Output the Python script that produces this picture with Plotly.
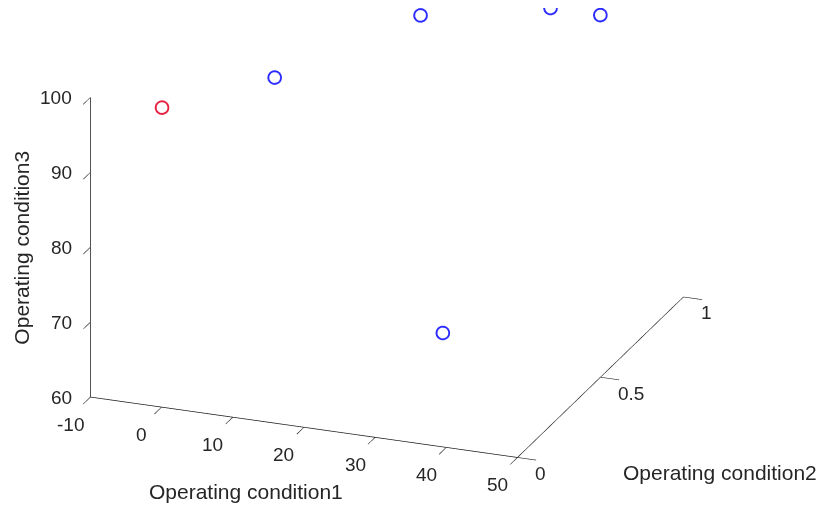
import plotly.graph_objects as go

# operating conditions (altitude, mach, throttle) - six regimes
cond1 = [0, 10, 20, 25, 35, 42]
cond2 = [0, 0.25, 0.7, 0.62, 0.84, 0.84]
cond3 = [100, 100, 100, 60, 100, 100]
is_red = [True, False, False, False, False, False]

x_ticks = [-10, 0, 10, 20, 30, 40, 50]
y_ticks = [0, 0.5, 1]
z_ticks = [60, 70, 80, 90, 100]
x_title = "Operating condition1"
y_title = "Operating condition2"
z_title = "Operating condition3"

red_pts = [i for i, r in enumerate(is_red) if r]
blue_pts = [i for i, r in enumerate(is_red) if not r]

font_col = "#262626"
fam = "Liberation Sans, Arial, sans-serif"

fig = go.Figure()
fig.add_trace(go.Scatter3d(
    x=[cond1[i] for i in blue_pts], y=[cond2[i] for i in blue_pts], z=[cond3[i] for i in blue_pts],
    mode="markers",
    marker=dict(symbol="circle-open", size=8, color="#2b2bff", line=dict(width=1.5, color="#2b2bff")),
))
fig.add_trace(go.Scatter3d(
    x=[cond1[i] for i in red_pts], y=[cond2[i] for i in red_pts], z=[cond3[i] for i in red_pts],
    mode="markers",
    marker=dict(symbol="circle-open", size=8, color="#e8203f", line=dict(width=1.5, color="#e8203f")),
))


def ax(rng, ticks):
    return dict(
        title=dict(text=""),
        range=rng, tickvals=ticks, showticklabels=False,
        showgrid=False, zeroline=False, showbackground=False,
        showline=True, linecolor="#1a1a1a", linewidth=1.5,
        ticks="outside", ticklen=20, tickcolor="#1a1a1a", tickwidth=1.5,
        showspikes=False, autorange=False,
    )


# tick labels and titles as flat text anchored in the scene (MATLAB keeps them horizontal)
tick_font = dict(family=fam, size=19, color=font_col)
title_font = dict(family=fam, size=21, color=font_col)
ann = []
for t in x_ticks:
    ann.append(dict(x=t, y=0, z=60, text=str(t), showarrow=False, font=tick_font,
                    xanchor="center", yanchor="middle", xshift=-20, yshift=-27))
for t in y_ticks:
    ann.append(dict(x=50, y=t, z=60, text=str(t), showarrow=False, font=tick_font,
                    xanchor="left", yanchor="middle", xshift=16, yshift=-16))
for t in z_ticks:
    ann.append(dict(x=-10, y=0, z=t, text=str(t), showarrow=False, font=tick_font,
                    xanchor="right", yanchor="middle", xshift=-16, yshift=0))
ann.append(dict(x=20, y=0, z=60, text=x_title, showarrow=False, font=title_font,
                xanchor="center", yanchor="middle", xshift=-58, yshift=-64))
ann.append(dict(x=50, y=0.5, z=60, text=y_title, showarrow=False, font=title_font,
                xanchor="left", yanchor="middle", xshift=21, yshift=-95))
ann.append(dict(x=-10, y=0, z=80, text=z_title, showarrow=False, font=title_font, textangle=-90,
                xanchor="center", yanchor="middle", xshift=-69, yshift=0))

view_dir = (0.664, -1.736, 0.740)
look_at = (0.161, -0.040, -0.237)

fig.update_layout(
    width=827, height=508,
    margin=dict(l=0, r=0, t=0, b=0),
    paper_bgcolor="white",
    showlegend=False,
    font=dict(family=fam, color=font_col),
    scene=dict(
        domain=dict(x=[0.0, 1.0], y=[0.0, 1.0]),
        xaxis=ax([-10, 50], x_ticks),
        yaxis=ax([0, 1], y_ticks),
        zaxis=ax([60, 100], z_ticks),
        aspectmode="manual",
        aspectratio=dict(x=1.80, y=1.829, z=1.270),
        camera=dict(
            projection=dict(type="orthographic"),
            eye=dict(x=look_at[0] + view_dir[0], y=look_at[1] + view_dir[1], z=look_at[2] + view_dir[2]),
            up=dict(x=0, y=0, z=1),
            center=dict(x=look_at[0], y=look_at[1], z=look_at[2]),
        ),
        annotations=ann,
    ),
)

fig.write_html("out.html")
